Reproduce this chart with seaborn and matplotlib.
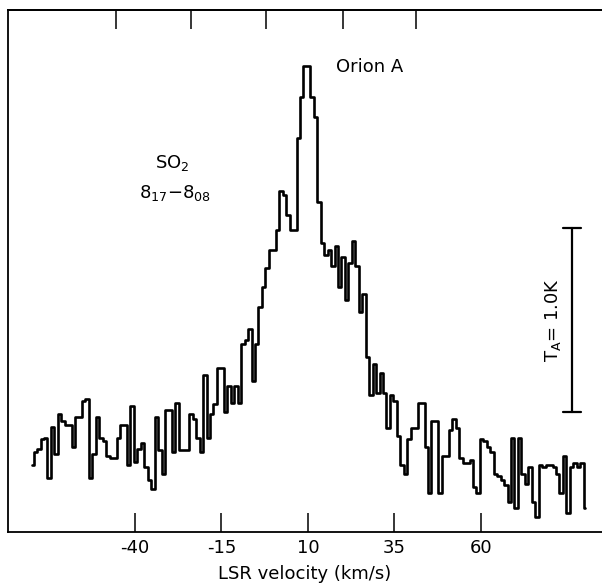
import numpy as np
import pandas as pd
import matplotlib
matplotlib.use("Agg")
import matplotlib.pyplot as plt
import seaborn as sns

# ---- data ----
v_start = -69.8      # km/s, centre of first channel
dv = 1.0             # km/s channel width
T_antenna = [
    0.08, 0.15, 0.17, 0.22, 0.23, 0.01, 0.29, 0.14, 0.36, 0.32,
    0.30, 0.30, 0.18, 0.34, 0.34, 0.43, 0.44, 0.01, 0.14, 0.34,
    0.23, 0.21, 0.13, 0.12, 0.12, 0.23, 0.30, 0.30, 0.08, 0.40,
    0.10, 0.17, 0.20, 0.07, 0.00, -0.05, 0.34, 0.16, 0.03, 0.38,
    0.38, 0.15, 0.42, 0.16, 0.16, 0.16, 0.36, 0.33, 0.23, 0.15,
    0.57, 0.23, 0.36, 0.41, 0.61, 0.61, 0.37, 0.51, 0.42, 0.51,
    0.42, 0.74, 0.76, 0.82, 0.54, 0.74, 0.94, 1.05, 1.15, 1.25,
    1.25, 1.36, 1.57, 1.55, 1.44, 1.36, 1.36, 1.86, 2.08, 2.25,
    2.25, 2.08, 1.97, 1.51, 1.29, 1.22, 1.25, 1.16, 1.27, 1.05,
    1.21, 0.98, 1.18, 1.30, 1.16, 0.91, 1.01, 0.67, 0.46, 0.63,
    0.47, 0.58, 0.47, 0.28, 0.46, 0.43, 0.24, 0.08, 0.03, 0.22,
    0.28, 0.28, 0.42, 0.42, 0.18, -0.07, 0.32, 0.32, -0.07, 0.13,
    0.13, 0.27, 0.33, 0.28, 0.12, 0.09, 0.09, 0.11, -0.04, -0.07,
    0.22, 0.21, 0.18, 0.15, 0.03, 0.02, 0.00, -0.03, -0.12, 0.23,
    -0.15, 0.23, 0.03, -0.02, 0.07, -0.12, -0.20, 0.08, 0.07, 0.08,
    0.08, 0.07, 0.03, -0.07, 0.13, -0.18, 0.07, 0.09, 0.07, 0.09,
    -0.15,
]
velocity = v_start + dv * np.arange(len(T_antenna))

bottom_ticks = [-40, -15, 10, 35, 60]
bottom_labels = ["-40", "-15", "10", "35", "60"]
top_ticks = [-45.5, -23.8, -2.1, 20.1, 41.2]

scale_bar_K = 1.0

# ---- plot ----
sns.set_style("ticks")
plt.rcParams["font.family"] = ["DejaVu Sans"]
plt.rcParams["text.color"] = "black"
plt.rcParams["axes.labelcolor"] = "black"
plt.rcParams["xtick.color"] = "black"
plt.rcParams["ytick.color"] = "black"

fig = plt.figure(figsize=(6.02, 5.84), dpi=100)
ax = fig.add_axes([8 / 602, 52 / 584, 594 / 602, 522 / 584])

df = pd.DataFrame({"v": velocity, "T": T_antenna})
sns.lineplot(data=df, x="v", y="T", ax=ax, drawstyle="steps-mid",
             color="black", lw=1.9, sort=True)

ax.set_xlim(-76.7, 95.0)
ax.set_ylim(-0.283, 2.554)

ax.set_xticks(bottom_ticks)
ax.set_xticklabels(bottom_labels)
ax.tick_params(axis="x", direction="in", length=14, width=1.1,
               labelsize=13, pad=5, colors="black")
ax.set_yticks([])
ax.set_ylabel("")
ax.set_xlabel("LSR velocity (km/s)", fontsize=13, labelpad=6, color="black")

ax.spines["right"].set_visible(False)
for s in ["left", "bottom", "top"]:
    ax.spines[s].set_linewidth(1.3)
    ax.spines[s].set_color("black")

sec = ax.secondary_xaxis("top")
sec.set_xticks(top_ticks)
sec.set_xticklabels([])
sec.tick_params(direction="in", length=14, width=1.1, colors="black")
sec.spines["top"].set_linewidth(1.3)
sec.spines["top"].set_color("black")

# annotations
ax.text(27.9, 2.245, "Orion A", fontsize=13, ha="center", va="center",
        color="black")
ax.text(-29.3, 1.72, r"SO$_2$", fontsize=13, ha="center", va="center",
        color="black")
ax.text(-28.4, 1.56, r"8$_{17}$$-$8$_{08}$", fontsize=13,
        ha="center", va="center", color="black")

# temperature scale bar
bar_x = 86.3
bar_y0 = 0.37
ax.plot([bar_x, bar_x], [bar_y0, bar_y0 + scale_bar_K], color="black", lw=1.6)
ax.plot([bar_x - 2.6, bar_x + 2.6], [bar_y0, bar_y0], color="black", lw=1.6)
ax.plot([bar_x - 2.6, bar_x + 2.6], [bar_y0 + scale_bar_K] * 2,
        color="black", lw=1.6)
ax.text(80.8, bar_y0 + scale_bar_K / 2, r"T$_\mathrm{A}$= 1.0K",
        fontsize=13, rotation=90, ha="center", va="center", color="black")

fig.savefig("out.png", dpi=100)
